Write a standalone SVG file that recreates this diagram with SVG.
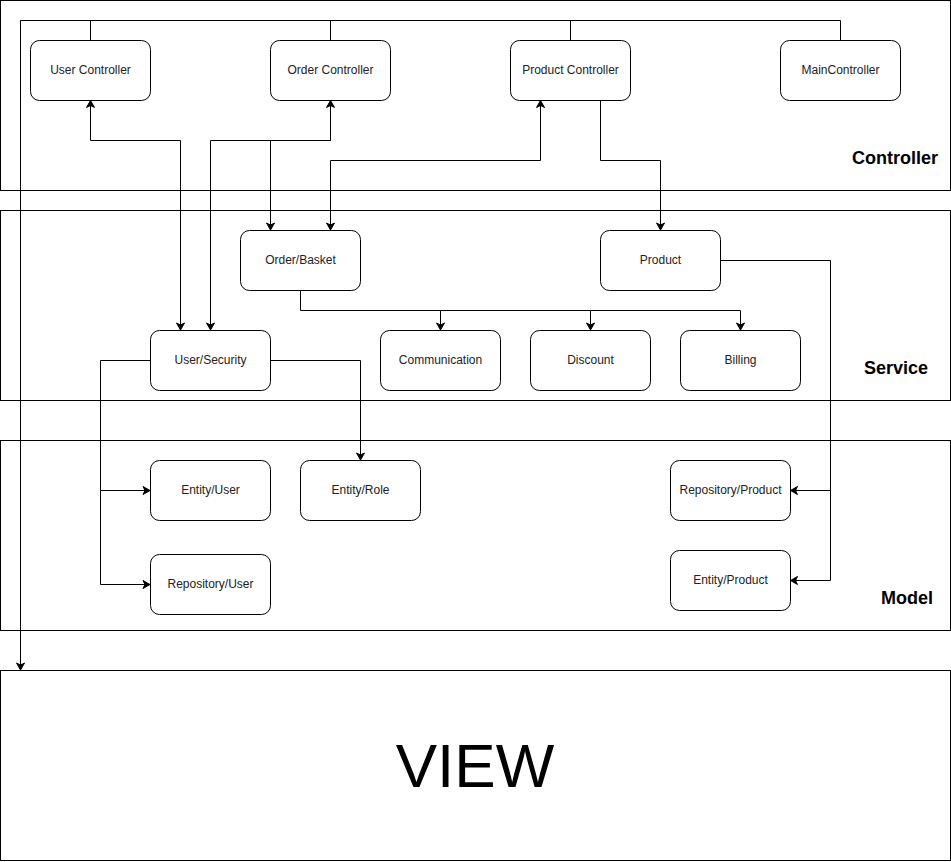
<svg xmlns="http://www.w3.org/2000/svg" width="951" height="862" viewBox="0 0 951 862">
<style>
.layer{fill:#fff;stroke:#000;stroke-width:1}
.node rect{fill:#fff;stroke:#000;stroke-width:1}
.node text{font-family:"Liberation Sans",Arial,sans-serif;font-size:12px;fill:#222;text-anchor:middle}
.lbl{font-family:"Liberation Sans",Arial,sans-serif;font-size:18px;font-weight:bold;fill:#000;text-anchor:middle}
.edge{fill:none;stroke:#000;stroke-width:1}
.arr{marker-end:url(#ah)}
.arr2{marker-end:url(#ah);marker-start:url(#ah)}
</style>
<defs>
<marker id="ah" markerUnits="userSpaceOnUse" markerWidth="10" markerHeight="10" viewBox="-8 -5 10 10" refX="0" refY="0" orient="auto-start-reverse">
<path d="M0,0 L-7,-4 L-5,0 L-7,4 Z" fill="#000" stroke="#000" stroke-width="1"/>
</marker>
</defs>
<rect width="951" height="862" fill="#fff"/>
<g id="layers">
<g id="layer-controller"><rect class="layer" x="0.5" y="0.5" width="950" height="190"/><text class="lbl" x="895" y="164">Controller</text></g>
<g id="layer-service"><rect class="layer" x="0.5" y="210.5" width="950" height="190"/><text class="lbl" x="896" y="374">Service</text></g>
<g id="layer-model"><rect class="layer" x="0.5" y="440.5" width="950" height="190"/><text class="lbl" x="907" y="604">Model</text></g>
<g id="layer-view"><rect class="layer" x="0.5" y="670.5" width="950" height="190"/><text x="475" y="787" font-family="'Liberation Sans',Arial,sans-serif" font-size="62" text-anchor="middle" fill="#000">VIEW</text></g>
</g>
<g id="connectors">
<path class="edge arr" d="M90.5,40 V20.5 H20.5 V670"/>
<path class="edge" d="M330.5,40 V20.5 M570.5,40 V20.5 M840.5,40 V20.5 H20.5"/>
<path class="edge arr2" d="M90.5,100.5 V140.5 H180.5 V330"/>
<path class="edge arr2" d="M330.5,100.5 V140.5 H210.5 V330"/>
<path class="edge arr" d="M330.5,140.5 H270.5 V230"/>
<path class="edge arr2" d="M540.5,100.5 V160.5 H330.5 V230"/>
<path class="edge arr" d="M600.5,100.5 V160.5 H660.5 V230"/>
<path class="edge arr" d="M300.5,290.5 V310.5 H440.5 V330"/>
<path class="edge arr" d="M440.5,310.5 H590.5 V330"/>
<path class="edge arr" d="M590.5,310.5 H740.5 V330"/>
<path class="edge arr" d="M720.5,260.5 H830.5 V580.5 H790.5"/>
<path class="edge arr" d="M830.5,490.5 H790.5"/>
<path class="edge arr" d="M150.5,360.5 H100.5 V490.5 H150"/>
<path class="edge arr" d="M100.5,490.5 V584.5 H150"/>
<path class="edge arr" d="M270.5,360.5 H360.5 V460"/>
</g>
<g id="n-user-controller" class="node"><rect x="30.5" y="40.5" width="120" height="60" rx="9"/><text x="90.5" y="74">User Controller</text></g>
<g id="n-order-controller" class="node"><rect x="270.5" y="40.5" width="120" height="60" rx="9"/><text x="330.5" y="74">Order Controller</text></g>
<g id="n-product-controller" class="node"><rect x="510.5" y="40.5" width="120" height="60" rx="9"/><text x="570.5" y="74">Product Controller</text></g>
<g id="n-main-controller" class="node"><rect x="780.5" y="40.5" width="120" height="60" rx="9"/><text x="840.5" y="74">MainController</text></g>
<g id="n-order-basket" class="node"><rect x="240.5" y="230.5" width="120" height="60" rx="9"/><text x="300.5" y="264">Order/Basket</text></g>
<g id="n-product" class="node"><rect x="600.5" y="230.5" width="120" height="60" rx="9"/><text x="660.5" y="264">Product</text></g>
<g id="n-user-security" class="node"><rect x="150.5" y="330.5" width="120" height="60" rx="9"/><text x="210.5" y="364">User/Security</text></g>
<g id="n-communication" class="node"><rect x="380.5" y="330.5" width="120" height="60" rx="9"/><text x="440.5" y="364">Communication</text></g>
<g id="n-discount" class="node"><rect x="530.5" y="330.5" width="120" height="60" rx="9"/><text x="590.5" y="364">Discount</text></g>
<g id="n-billing" class="node"><rect x="680.5" y="330.5" width="120" height="60" rx="9"/><text x="740.5" y="364">Billing</text></g>
<g id="n-entity-user" class="node"><rect x="150.5" y="460.5" width="120" height="60" rx="9"/><text x="210.5" y="494">Entity/User</text></g>
<g id="n-entity-role" class="node"><rect x="300.5" y="460.5" width="120" height="60" rx="9"/><text x="360.5" y="494">Entity/Role</text></g>
<g id="n-repository-user" class="node"><rect x="150.5" y="554.5" width="120" height="60" rx="9"/><text x="210.5" y="588">Repository/User</text></g>
<g id="n-repository-product" class="node"><rect x="670.5" y="460.5" width="120" height="60" rx="9"/><text x="730.5" y="494">Repository/Product</text></g>
<g id="n-entity-product" class="node"><rect x="670.5" y="550.5" width="120" height="60" rx="9"/><text x="730.5" y="584">Entity/Product</text></g>
</svg>
